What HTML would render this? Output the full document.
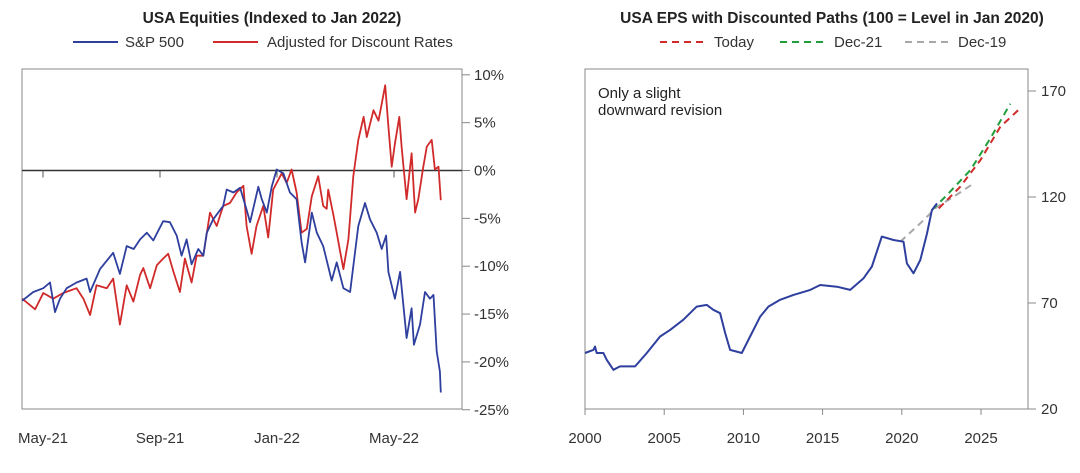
<!DOCTYPE html>
<html><head><meta charset="utf-8"><style>
body{margin:0;background:#fff;width:1080px;height:468px;overflow:hidden}
svg{font-family:"Liberation Sans",sans-serif}
</style></head><body>
<svg id="s" width="1080" height="468">
<g id="left">
 <text x="272" y="23" text-anchor="middle" font-weight="bold" font-size="15.5" fill="#222">USA Equities (Indexed to Jan 2022)</text>
 <line x1="73" y1="42" x2="118" y2="42" stroke="#2e3f9e" stroke-width="2"/>
 <text x="125" y="47" font-size="15" fill="#333">S&amp;P 500</text>
 <line x1="213" y1="42" x2="258" y2="42" stroke="#d12a2a" stroke-width="2"/>
 <text x="267" y="47" font-size="15" fill="#333">Adjusted for Discount Rates</text>
 <rect x="22" y="69" width="440" height="340" fill="none" stroke="#888" stroke-width="1"/>
</g>
<g id="right">
 <text x="832" y="23" text-anchor="middle" font-weight="bold" font-size="15.5" fill="#222">USA EPS with Discounted Paths (100 = Level in Jan 2020)</text>
 <line x1="660" y1="42" x2="706" y2="42" stroke="#d12a2a" stroke-width="2" stroke-dasharray="7,5"/>
 <text x="714" y="47" font-size="15" fill="#333">Today</text>
 <line x1="780" y1="42" x2="826" y2="42" stroke="#1f9e3a" stroke-width="2" stroke-dasharray="7,5"/>
 <text x="834" y="47" font-size="15" fill="#333">Dec-21</text>
 <line x1="905" y1="42" x2="951" y2="42" stroke="#a8a8a8" stroke-width="2" stroke-dasharray="7,5"/>
 <text x="958" y="47" font-size="15" fill="#333">Dec-19</text>
 <rect x="585" y="69" width="443" height="340" fill="none" stroke="#888" stroke-width="1"/>
 <text x="598" y="98" font-size="15" fill="#222">Only a slight</text>
 <text x="598" y="115" font-size="15" fill="#222">downward revision</text>
</g>
</svg>
<script>
// ---- Left chart data (t = months since May-21, values in %) ----
const lTicks=[-25,-20,-15,-10,-5,0,5,10];
const lXLabels=["May-21","Sep-21","Jan-22","May-22"];
const lXLabelMonths=[0,4,8,12];
const spT=[-0.71,-0.33,0.01,0.24,0.41,0.58,0.81,1.15,1.49,1.61,1.95,2.40,2.63,2.86,3.10,3.32,3.55,3.77,4.11,4.34,4.57,4.74,4.91,5.08,5.31,5.48,5.60,5.82,6.16,6.28,6.51,6.74,6.96,7.08,7.36,7.48,7.65,7.82,7.99,8.22,8.44,8.67,8.84,8.96,9.19,9.36,9.58,9.87,10.04,10.27,10.50,10.78,11.01,11.18,11.41,11.58,11.73,11.81,12.03,12.21,12.43,12.60,12.68,12.89,13.06,13.23,13.35,13.46,13.57,13.60];
const spV=[-13.6,-12.7,-12.3,-11.7,-14.8,-13.4,-12.3,-11.7,-11.3,-12.7,-10.3,-8.6,-10.8,-7.9,-8.2,-7.2,-6.5,-7.3,-5.3,-5.4,-6.8,-8.9,-7.2,-9.8,-8.2,-8.9,-6.5,-5.1,-3.7,-2.0,-2.3,-1.8,-4.1,-5.4,-1.7,-3.0,-4.4,-1.7,0.1,-0.3,-2.3,-3.0,-7.5,-9.6,-4.4,-6.5,-7.9,-11.5,-9.6,-12.3,-12.7,-5.8,-3.4,-5.1,-6.5,-8.2,-6.8,-10.6,-13.4,-10.6,-17.5,-14.4,-18.2,-16.1,-12.7,-13.4,-13.0,-18.9,-21.0,-23.2];
const adjT=[-0.71,-0.27,0.01,0.35,0.69,1.15,1.38,1.61,1.83,2.18,2.40,2.63,2.86,3.09,3.32,3.43,3.66,3.89,4.11,4.28,4.46,4.68,4.85,5.08,5.25,5.48,5.71,5.94,6.16,6.39,6.62,6.85,6.96,7.13,7.30,7.53,7.70,7.87,8.16,8.33,8.50,8.67,8.84,9.02,9.19,9.41,9.58,9.70,9.75,9.93,10.04,10.16,10.27,10.44,10.61,10.78,10.96,11.07,11.30,11.47,11.70,11.81,11.92,12.03,12.18,12.26,12.43,12.60,12.72,12.83,13.00,13.12,13.29,13.40,13.52,13.60];
const adjV=[-13.4,-14.5,-12.8,-13.4,-12.8,-12.3,-13.4,-15.1,-12.0,-12.3,-11.3,-16.1,-12.0,-13.7,-10.9,-10.2,-12.3,-9.9,-9.2,-8.7,-10.6,-12.7,-9.2,-11.7,-8.9,-8.9,-4.4,-5.8,-3.7,-3.4,-2.3,-1.6,-5.8,-8.7,-5.8,-3.7,-7.0,-2.0,-0.3,-1.3,0.1,-2.3,-6.5,-6.1,-2.7,-0.6,-3.7,-4.0,-2.0,-4.7,-6.5,-8.5,-10.3,-7.2,-0.6,3.2,5.6,3.5,6.3,5.2,8.9,4.6,0.4,2.8,5.6,2.5,-3.0,1.8,-4.4,-3.0,0.4,2.5,3.2,0.1,0.4,-3.1];
// ---- Right chart data (years, index) ----
const rTicks=[20,70,120,170];
const rXTicks=[2000,2005,2010,2015,2020,2025];
const epsYr=[2000.0,2000.53,2000.63,2000.74,2001.16,2001.37,2001.79,2002.21,2002.63,2003.16,2003.9,2004.74,2005.37,2006.21,2007.05,2007.69,2008.1,2008.53,2008.85,2009.16,2009.9,2010.42,2011.06,2011.58,2012.32,2013.16,2014.22,2014.85,2015.9,2016.74,2017.59,2018.11,2018.74,2019.48,2020.11,2020.32,2020.74,2021.17,2021.59,2021.9,2022.22];
const epsV=[46.4,47.9,49.5,46.4,46.4,43.2,38.5,40.1,40.1,40.1,46.4,54.2,57.3,62.1,68.3,69.1,66.8,65.2,55.8,47.9,46.4,54.2,63.6,68.3,71.5,73.8,76.2,78.5,77.7,76.2,81.7,87.2,101.3,99.7,98.9,88.7,84.0,90.3,102.8,113.8,117.0];
const dec19Yr=[2019.9,2021.17,2022.22,2023.27,2024.54];
const dec19V=[98.9,107.6,115.4,120.1,126.4];
const dec21Yr=[2021.9,2022.85,2024.33,2025.59,2026.85];
const dec21V=[113.8,120.9,132.7,147.6,164.0];
const todayYr=[2022.33,2023.69,2024.96,2026.22,2027.38];
const todayV=[114.6,124.8,137.4,153.1,161.2];

const NS="http://www.w3.org/2000/svg";
function mk(tag,attrs,parent){const e=document.createElementNS(NS,tag);for(const k in attrs)e.setAttribute(k,attrs[k]);parent.appendChild(e);return e;}
const L=document.getElementById('left'),R=document.getElementById('right');
const lx=t=>43+t*29.25, ly=v=>170.5-v*9.57;
const rx=y=>585+(y-2000)*15.84, ry=v=>409-(v-20)*2.12;
function path(xs,ys,fx,fy){return xs.map((x,i)=>(i?'L':'M')+fx(x).toFixed(1)+','+fy(ys[i]).toFixed(1)).join('');}

// left axes
lTicks.forEach(v=>{
 const t=mk('line',{x1:462,x2:470,y1:ly(v),y2:ly(v),stroke:'#888'},L);
 
 
 const tx=mk('text',{x:474,y:ly(v)+5,'font-size':15,fill:'#333'},L);
 tx.textContent=v+'%';
 
 
});
const zl=mk('line',{x1:22,x2:462,y1:ly(0),y2:ly(0),stroke:'#333','stroke-width':1.5},L);


lXLabels.forEach((s,i)=>{
 const x=lx(lXLabelMonths[i]);
 const t=mk('line',{x1:x,x2:x,y1:ly(0),y2:ly(0)+7,stroke:'#555'},L);
 
 
 const tx=mk('text',{x:x,y:443,'font-size':15,fill:'#333','text-anchor':'middle'},L);
 tx.textContent=s;
 
 
});
const pa=mk('path',{d:path(adjT,adjV,lx,ly),fill:'none',stroke:'#d12a2a','stroke-width':1.8,'stroke-linejoin':'round'},L);


const ps=mk('path',{d:path(spT,spV,lx,ly),fill:'none',stroke:'#2e3f9e','stroke-width':1.8,'stroke-linejoin':'round'},L);



// right axes
rTicks.forEach(v=>{
 const t=mk('line',{x1:1028,x2:1036,y1:ry(v),y2:ry(v),stroke:'#888'},R);
 
 
 const tx=mk('text',{x:1041,y:ry(v)+5,'font-size':15,fill:'#333'},R);
 tx.textContent=v;
 
 
});
rXTicks.forEach(y=>{
 const x=rx(y);
 const t=mk('line',{x1:x,x2:x,y1:409,y2:415,stroke:'#888'},R);
 
 
 const tx=mk('text',{x:x,y:443,'font-size':15,fill:'#333','text-anchor':'middle'},R);
 tx.textContent=y;
 
 
});
const g1=mk('path',{d:path(dec19Yr,dec19V,rx,ry),fill:'none',stroke:'#a8a8a8','stroke-width':2,'stroke-dasharray':'7,5'},R);


const g2=mk('path',{d:path(dec21Yr,dec21V,rx,ry),fill:'none',stroke:'#1f9e3a','stroke-width':2,'stroke-dasharray':'7,5'},R);


const g3=mk('path',{d:path(todayYr,todayV,rx,ry),fill:'none',stroke:'#d12a2a','stroke-width':2,'stroke-dasharray':'7,5'},R);


const g4=mk('path',{d:path(epsYr,epsV,rx,ry),fill:'none',stroke:'#2e3f9e','stroke-width':2,'stroke-linejoin':'round'},R);


</script>
</body></html>
